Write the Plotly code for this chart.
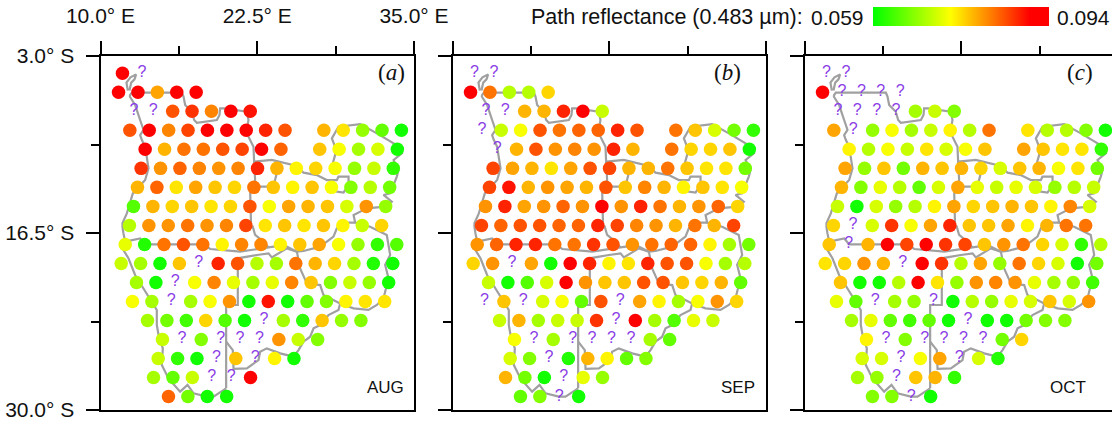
import plotly.graph_objects as go

Q = "?"   # site with no retrieval
X = None  # no site in this grid position

ROW_LAT = [4.32, 5.77, 7.22, 8.67, 10.12, 11.57, 13.02, 14.47, 15.92,
           17.37, 18.82, 20.27, 21.72, 23.17, 24.62, 26.07, 27.52, 28.97]
ROW_FIRST_LON = [11.75, 11.44, 12.66, 12.34, 13.56, 13.24, 12.95, 12.63, 12.31,
                 11.97, 11.65, 12.87, 12.55, 13.75, 14.94, 14.60, 14.23, 15.42]
LON_STEP = 1.547

# path reflectance x 1000
AUG = [
    [91, Q],
    [91, 91, 80, 91, 91],
    [Q, Q, 85, 87, 82, 91, 89],
    [85, 91, 82, 86, 91, 91, 90, 88, 85, X, 79, 76, 68, 65, 60],
    [91, 79, 83, 83, 85, 86, 90, 84, X, 78, 74, 69, 72, 60],
    [87, 81, 84, 82, 81, 82, 88, 79, 75, 77, 74, 68, 71, 62],
    [79, 84, 76, 80, 78, 77, 83, 78, 75, 78, 74, 67, 70, 66],
    [64, 79, 77, 78, 76, 77, 85, 74, 80, 79, 78, 72, 81, 68],
    [70, 81, 81, 83, 81, 82, 86, 76, 78, 76, 78, 75, 71, 77],
    [73, 61, 83, 85, 83, 75, 82, 82, 75, 78, 80, 74, 68, 62, 64],
    [71, 69, 60, 78, Q, 88, 85, 70, 69, 83, 79, 77, 69, 61, 60],
    [69, 60, Q, 74, 82, 73, 69, 73, 82, 78, 67, 71, 68, 60],
    [74, 69, Q, 69, 74, 81, 60, 89, 60, 65, 67, 75, 76, 76],
    [69, 66, 63, 77, 64, 60, Q, 69, 62, 78, 68, 67],
    [71, Q, 67, Q, Q, Q, 81, 71, 67],
    [71, 62, 60, Q, 78, Q, 75, 60],
    [69, 65, 71, Q, Q, 91],
    [84, 66, 60, 60],
]
SEP = [
    [Q, Q],
    [91, 83, 70, 70, 77],
    [Q, Q, 79, 79, 88, 91, 71],
    [Q, 71, 74, 85, 83, 84, 84, 88, 85, X, 83, 78, 72, 66, 62],
    [Q, 79, 85, 81, 82, 81, 88, 79, X, 83, 77, 77, 78, 60],
    [86, 80, 79, 76, 80, 85, 86, 79, 79, 83, 78, 76, 76, 66],
    [86, 89, 79, 81, 80, 79, 85, 78, 82, 79, 75, 78, 76, 74],
    [81, 88, 80, 81, 84, 81, 90, 81, 88, 83, 79, 81, 84, 77],
    [86, 84, 85, 85, 84, 84, 88, 86, 82, 81, 79, 83, 79, 86],
    [81, 84, 88, 88, 83, 83, 87, 85, 81, 83, 84, 84, 75, 69, 66],
    [77, 81, Q, 80, 60, 91, 88, 75, 76, 88, 85, 85, 74, 69, 70],
    [71, 60, 64, 72, 91, 81, 78, 78, 85, 85, 78, 77, 79, 65],
    [Q, 78, Q, 72, 74, 65, 85, Q, 80, 75, 69, 74, 81, 77],
    [71, 79, 69, 71, 71, 87, Q, 91, 69, 64, 73, 71],
    [74, Q, 69, Q, Q, Q, Q, 69, 65],
    [72, 67, Q, 61, 79, 75, 65, 67],
    [79, 66, 60, Q, 73, 68],
    [65, 67, Q, 60],
]
OCT = [
    [Q, Q],
    [91, Q, Q, Q, Q],
    [Q, Q, Q, Q, 69, 71, 67],
    [80, Q, 68, 74, 69, 71, 75, 70, 83, X, 76, 70, 70, 67, 60],
    [75, 70, 74, 71, 76, 72, 74, 78, X, 80, 78, 76, 76, 62],
    [80, 68, 78, 66, 79, 78, 79, 77, 72, 78, 79, 74, 76, 66],
    [79, 67, 73, 70, 65, 72, 80, 73, 71, 73, 72, 68, 70, 71],
    [71, 60, 72, 68, 70, 75, 80, 77, 78, 79, 78, 75, 82, 72],
    [77, Q, 72, 87, 74, 80, 88, 78, 78, 80, 75, 79, 83, 83],
    [78, Q, 79, 91, 86, 90, 87, 86, 78, 81, 83, 77, 72, 62, 70],
    [76, 77, 81, 79, Q, 91, 87, 70, 80, 68, 83, 77, 72, 60, 66],
    [78, 60, 60, 70, 91, 76, 68, 81, 82, 81, 73, 69, 68, 63],
    [73, 65, Q, 69, 68, Q, 60, 70, 68, 73, 72, 78, 72, 81],
    [69, 73, 65, 63, 65, 60, Q, 60, 60, 66, 67, 67],
    [75, Q, 67, Q, Q, Q, Q, 66, 77],
    [72, 72, Q, 74, 80, Q, 72, 61],
    [69, 68, Q, 78, 79, 62],
    [67, 67, Q, 60],
]
MONTHS = ["AUG", "SEP", "OCT"]
LETTERS = ["a", "b", "c"]
LON_TICKS = [10, 22.5, 35]
LON_LABELS = ["10.0° E", "22.5° E", "35.0° E"]
LON_MINOR = [16.25, 28.75]
LAT_TICKS = [3, 16.5, 30]
LAT_LABELS = ["3.0° S", "16.5° S", "30.0° S"]
LAT_MINOR = [9.75, 23.25]
VMIN, VMAX = 0.059, 0.094

# country boundaries as (lon, lat) polylines
BORDERS = [
    [(12.18,5.64),(12.07,5.03),(12.39,4.63),(12.84,4.40),(12.71,4.78),(12.45,5.03),(12.31,5.64)],
    [(12.31,6.05),(12.50,5.80),(16.49,5.80),(16.62,6.10),(16.75,6.74),(17.28,7.25),(17.47,7.88),(17.68,8.09),
     (19.28,7.88),(19.49,7.50),(19.54,6.99),(19.86,6.99),(21.67,7.25),(21.80,7.88),(21.67,8.64),(21.80,9.15),
     (22.20,9.92),(22.25,11.06),(23.66,10.93),(24.19,11.06),(24.86,11.24),(25.66,11.39),(26.19,11.90),(27.25,12.08),
     (28.05,12.46),(28.85,12.46),(28.98,12.20),(29.78,12.20),(29.78,12.84),(29.38,13.42),(28.85,13.35),(28.31,12.97)],
    [(24.19,11.06),(24.06,11.95),(23.85,12.71),(23.26,12.97),(22.20,12.97)],
    [(22.25,11.06),(22.33,12.46),(22.20,12.97),(21.94,13.48),(22.01,16.02),(22.14,16.02),(22.33,16.65),(22.99,17.16),(23.40,17.60)],
    [(12.31,6.05),(12.76,6.74),(13.16,7.88),(13.43,8.64),(13.16,9.03),(13.30,9.41),(13.56,9.92),(13.69,10.68),
     (13.83,11.57),(13.56,12.46),(12.58,13.48),(12.50,13.73),(12.10,15.00),(11.75,15.76),(11.75,16.02),(11.83,16.53),
     (11.97,17.16),(11.83,17.80),(12.23,18.43),(12.76,19.70),(13.56,20.98),(14.49,22.37),(14.49,23.52),(14.63,24.28),
     (14.97,25.30),(14.89,26.57),(15.42,27.59),(16.35,28.60),(16.94,28.09),(17.42,28.73),(18.48,28.98),(19.01,28.98),
     (20.02,28.35)],
    [(20.02,28.35),(20.02,21.99),(20.95,21.99),(20.95,18.43),(22.47,18.18),(23.40,18.05),(23.66,18.36),(24.86,17.67),(25.66,17.92)],
    [(11.97,17.16),(13.16,16.91),(13.56,17.36),(18.21,17.36),(18.75,17.72),(21.14,17.92),(23.80,17.54),(24.86,17.54),
     (25.66,17.92),(26.19,17.87),(27.52,17.54),(28.58,16.78),(28.85,16.14),(29.38,15.71),(30.31,15.71)],
    [(28.45,11.44),(28.71,10.55),(28.71,9.92),(28.45,9.28),(28.98,8.39),(30.71,8.19),(32.04,8.90),(33.37,9.66),
     (34.03,10.42),(33.37,10.93),(33.76,11.70),(33.63,12.20),(33.10,13.48),(32.57,13.60),(33.23,14.11),(32.70,14.49),
     (31.24,14.62),(30.18,15.13),(30.31,15.71),(31.50,16.02),(32.83,16.65),(33.10,18.18),(32.70,18.94),(32.97,19.96),
     (32.57,21.48),(32.04,21.99),(31.37,22.37),(30.18,22.25),(29.11,21.87),(27.78,21.23),(27.52,20.47),(26.45,20.34),
     (25.92,19.20),(25.66,17.92)],
    [(29.11,21.87),(28.98,22.37),(28.18,22.76),(27.52,23.52),(26.99,23.77),(26.72,24.41),(26.19,24.79),(25.79,25.43),
     (25.39,25.93),(24.33,25.68),(23.26,25.30),(22.73,25.55),(22.60,26.19),(21.67,26.82),(20.61,26.87),(20.55,25.43),(20.02,24.79)],
]

W, H = 1112, 426
PANEL_X = [(100.5, 414), (452.5, 766), (804.5, 1112)]
TOP, BOTTOM = 56, 410
LABEL_FONT = dict(family="Liberation Sans, Arial, sans-serif", size=21, color="#111111")

fig = go.Figure()
for i, (values, (x0, x1)) in enumerate(zip([AUG, SEP, OCT], PANEL_X)):
    ax = "" if i == 0 else str(i + 1)
    blon, blat = [], []
    for path in BORDERS:
        blon += [p[0] for p in path] + [None]
        blat += [p[1] for p in path] + [None]
    fig.add_trace(go.Scatter(x=blon, y=blat, xaxis="x" + ax, yaxis="y" + ax, mode="lines",
                             line=dict(color="#a0a0a0", width=2.2), hoverinfo="skip", showlegend=False))
    dx, dy, dv, qx, qy = [], [], [], [], []
    for row, first, lat in zip(values, ROW_FIRST_LON, ROW_LAT):
        for k, v in enumerate(row):
            lon = first + k * LON_STEP
            if v == Q:
                qx.append(lon); qy.append(lat)
            elif v is not None:
                dx.append(lon); dy.append(lat); dv.append(v / 1000)
    fig.add_trace(go.Scatter(x=dx, y=dy, xaxis="x" + ax, yaxis="y" + ax, mode="markers",
                             marker=dict(size=13.5, color=dv, coloraxis="coloraxis", line=dict(width=0)),
                             showlegend=False))
    fig.add_trace(go.Scatter(x=qx, y=qy, xaxis="x" + ax, yaxis="y" + ax, mode="text", text=[Q] * len(qx),
                             textposition="middle center",
                             textfont=dict(family="Liberation Sans, Arial, sans-serif", size=16, color="#8a3ce6"),
                             showlegend=False))
    xr = [10, 10 + 25 * (x1 - x0) / 313.5]
    first_panel = i == 0
    fig.update_layout(**{
        "xaxis" + ax: dict(
            domain=[x0 / W, x1 / W], range=xr, side="top", anchor="y" + ax,
            tickmode="array", tickvals=LON_TICKS if i < 2 else LON_TICKS[:2],
            ticktext=LON_LABELS if first_panel else ["", "", ""][:2 if i == 2 else 3],
            ticks="outside", ticklen=13, tickwidth=1.5, tickcolor="black", ticklabelstandoff=10,
            minor=dict(tickmode="array", tickvals=LON_MINOR, ticks="outside", ticklen=8, tickwidth=1.5, tickcolor="black"),
            showline=True, linecolor="black", linewidth=2, mirror=True, showgrid=False, zeroline=False,
            tickfont=LABEL_FONT),
        "yaxis" + ax: dict(
            domain=[1 - BOTTOM / H, 1 - TOP / H], range=[30, 3], anchor="x" + ax,
            tickmode="array", tickvals=LAT_TICKS,
            ticktext=LAT_LABELS if first_panel else ["", "", ""],
            ticks="outside", ticklen=13, tickwidth=1.5, tickcolor="black", ticklabelstandoff=7,
            minor=dict(tickmode="array", tickvals=LAT_MINOR, ticks="outside", ticklen=8, tickwidth=1.5, tickcolor="black"),
            showline=True, linecolor="black", linewidth=2, mirror=(i < 2), showgrid=False, zeroline=False,
            tickfont=LABEL_FONT),
    })

anns = []
for letter, px in zip(LETTERS, [391, 743, 1095]):
    anns.append(dict(x=px / W, y=1 - 72 / H, xref="paper", yref="paper", showarrow=False, yanchor="middle",
                     text=f"(<i>{letter}</i>)", font=dict(family="Liberation Serif, Times New Roman, serif", size=23, color="#111111")))
for month, px in zip(MONTHS, [385, 738, 1088]):
    anns.append(dict(x=px / W, y=1 - 387 / H, xref="paper", yref="paper", showarrow=False, yanchor="middle", text=month,
                     font=dict(family="Liberation Sans, Arial, sans-serif", size=17, color="#111111")))
for text, px, anchor, size in [("Path reflectance (0.483 µm):", 805, "right", 21.5), (f"{VMIN:.3f}", 866, "right", 21), (f"{VMAX:.3f}", 1055, "left", 21)]:
    anns.append(dict(x=px / W, y=1 - 17 / H, xref="paper", yref="paper", showarrow=False, yanchor="middle",
                     xanchor=anchor, text=text, font=dict(LABEL_FONT, size=size)))

fig.update_layout(
    width=W, height=H, margin=dict(l=0, r=0, t=0, b=0, pad=0, autoexpand=False), paper_bgcolor="white", plot_bgcolor="white",
    annotations=anns, showlegend=False,
    coloraxis=dict(
        cmin=VMIN, cmax=VMAX,
        colorscale=[[0, "rgb(0,255,0)"], [0.44, "rgb(255,255,0)"], [0.89, "rgb(255,0,0)"], [1, "rgb(255,0,0)"]],
        colorbar=dict(orientation="h", x=873 / W, xanchor="left", y=1 - 25.7 / H, yanchor="bottom",
                      len=176, lenmode="pixels", thickness=18.7, thicknessmode="pixels",
                      showticklabels=False, ticks="", outlinewidth=0, xpad=0, ypad=0, borderwidth=0),
    ),
)
fig.write_html("out.html", config=dict(displayModeBar=False),
               post_script="document.body.style.margin='0';document.body.style.overflow='hidden';")
